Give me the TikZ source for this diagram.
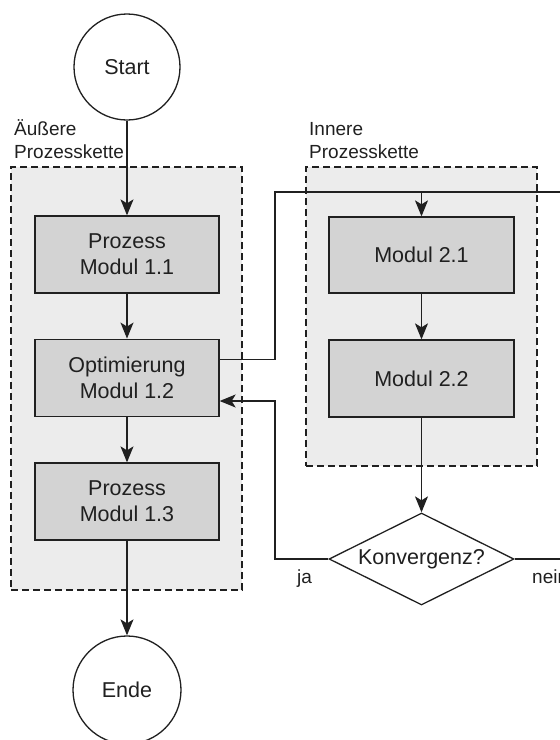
\documentclass[tikz,border=0pt]{standalone}
\usepackage{fontspec}
\setmainfont{Liberation Sans}
\usetikzlibrary{shapes.geometric,arrows.meta}
\definecolor{ink}{HTML}{202020}
\definecolor{regionfill}{HTML}{ECECEC}
\definecolor{boxfill}{HTML}{D3D3D3}
\tikzset{
  line/.style={draw=ink, line width=1.3pt},
  arr/.style={line, -{Stealth[length=16pt,width=13pt,inset=4pt]}},
  region/.style={draw=ink, fill=regionfill, line width=1.2pt,
    dash pattern=on 7pt off 4pt, inner sep=0pt},
  modbox/.style={draw=ink, fill=boxfill, line width=1.3pt, inner sep=0pt,
    minimum width=184pt, minimum height=77pt, align=center, text=ink,
    font=\fontsize{21.5}{26}\selectfont},
  terminal/.style={draw=ink, line width=1.3pt, circle, inner sep=0pt,
    text=ink, font=\fontsize{21.5}{26}\selectfont},
  decision/.style={draw=ink, fill=white, line width=1.3pt, diamond, aspect=2,
    inner sep=0pt, minimum width=185pt, minimum height=92pt, text=ink,
    font=\fontsize{21.5}{26}\selectfont},
  tag/.style={inner sep=0pt, align=left, text=ink,
    font=\fontsize{19}{22.5}\selectfont},
}
\begin{document}
\begin{tikzpicture}[x=1pt, y=-1pt]
  \useasboundingbox (0,0) rectangle (560,740);
  \clip (0,0) rectangle (560,740);

  % process chain frames
  \node[region, minimum width=231pt, minimum height=423pt] (outer) at (126.5,378.5) {};
  \node[region, minimum width=231pt, minimum height=299pt] (inner) at (421.5,316.5) {};
  \node[tag, anchor=base west] (outerlbl) at (14,158) {Äußere\\Prozesskette};
  \node[tag, anchor=base west] (innerlbl) at (309,158) {Innere\\Prozesskette};

  % start and end
  \node[terminal, minimum size=106pt] (start) at (127,67) {Start};
  \node[terminal, minimum size=108pt] (ende) at (127,690) {Ende};

  % outer modules
  \node[modbox] (m11) at (127,254.5) {Prozess\\Modul 1.1};
  \node[modbox] (m12) at (127,377.7) {Optimierung\\Modul 1.2};
  \node[modbox] (m13) at (127,501.5) {Prozess\\Modul 1.3};

  % inner modules
  \node[modbox, minimum width=185pt, minimum height=76pt] (m21) at (421.5,255) {Modul 2.1};
  \node[modbox, minimum width=185pt, minimum height=77pt] (m22) at (421.5,378.5) {Modul 2.2};

  % convergence check
  \node[decision] (konv) at (421.5,559) {Konvergenz?};
  \node[tag, anchor=base west] (ja) at (297,583) {ja};
  \node[tag, anchor=base west] (nein) at (532,583) {nein};

  % routing points
  \coordinate (jl) at (275,192);
  \coordinate (jin) at (421.5,192);
  \coordinate (jr) at (600,192);
  \coordinate (jback) at (275,401);

  % main flow
  \draw[arr] (start) -- (m11);
  \draw[arr] (m11) -- (m12);
  \draw[arr] (m12) -- (m13);
  \draw[arr] (m13) -- (ende);
  \draw[arr] (m21) -- (m22);
  \draw[arr] (m22) -- (konv);

  % into the inner chain
  \draw[arr] ([yshift=18.4pt]m12.east) -| (jl) -| (m21.north);
  % not converged: back to the inner chain
  \draw[line] (konv.east) -| (jr) -- (jin);
  % converged: back to the optimiser
  \draw[arr] (konv.west) -| (jback) -- ([yshift=-23.3pt]m12.east);
\end{tikzpicture}
\end{document}
